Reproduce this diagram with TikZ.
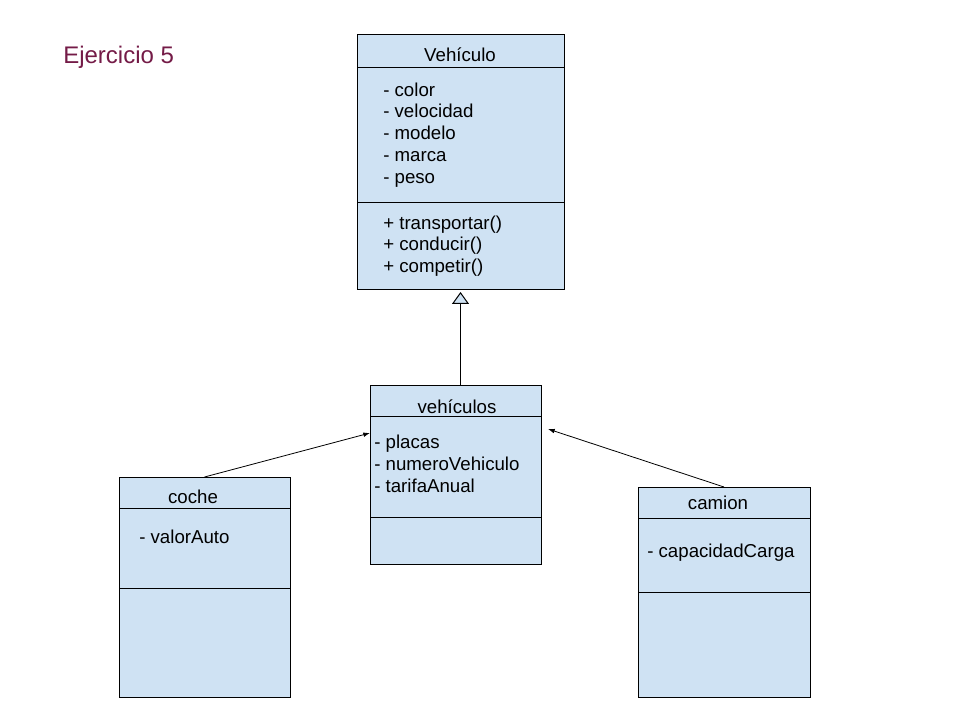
\documentclass[tikz,border=0pt]{standalone}
\usepackage{fontspec}
\setmainfont{Liberation Sans}
\usetikzlibrary{arrows.meta}

\definecolor{classfill}{HTML}{CFE2F3}
\definecolor{titlecolor}{HTML}{741B47}

\tikzset{
	umlbox/.style={rectangle, draw, fill=classfill, line width=0.75pt, inner sep=0pt, outer sep=0pt, anchor=north west},
	txt/.style={anchor=base west, inner sep=0pt, font=\fontsize{14}{16}\selectfont},
	ttl/.style={anchor=base, inner sep=0pt, font=\fontsize{14}{16}\selectfont},
	assoc/.style={line width=0.6pt, -{Latex[length=5pt,width=3.5pt]}}
}

\begin{document}
\begin{tikzpicture}[x=0.75pt, y=-0.75pt]
	\useasboundingbox (0,0) rectangle (960,720);

	% Title
	\node [anchor=base west, inner sep=0pt, text=titlecolor, font=\fontsize{18}{20}\selectfont] (ejercicio) at (63,64) {Ejercicio 5};

	% Define nodes
	\node [umlbox, minimum width=155.25pt, minimum height=191.25pt] (vehiculo) at (357,35) {};
	\node [umlbox, minimum width=128.25pt, minimum height=134.25pt] (vehiculos) at (370,385) {};
	\node [umlbox, minimum width=128.25pt, minimum height=165pt] (coche) at (119,477) {};
	\node [umlbox, minimum width=129pt, minimum height=157.5pt] (camion) at (638,487) {};

	% Compartments
	\draw [line width=0.75pt] (357,68) -- (564,68);
	\draw [line width=0.75pt] (357,203) -- (564,203);
	\draw [line width=0.75pt] (370,416) -- (541,416);
	\draw [line width=0.75pt] (370,517) -- (541,517);
	\draw [line width=0.75pt] (119,508) -- (290,508);
	\draw [line width=0.75pt] (119,588) -- (290,588);
	\draw [line width=0.75pt] (638,518) -- (810,518);
	\draw [line width=0.75pt] (638,592) -- (810,592);

	% Class names and members
	\node [ttl] (vehiculoname) at (460,62) {Vehículo};
	\node [txt] (color) at (383,97) {- color};
	\node [txt] (velocidad) at (383,118) {- velocidad};
	\node [txt] (modelo) at (383,140) {- modelo};
	\node [txt] (marca) at (383,162) {- marca};
	\node [txt] (peso) at (383,184) {- peso};
	\node [txt] (transportar) at (383,230) {+ transportar()};
	\node [txt] (conducir) at (383,251) {+ conducir()};
	\node [txt] (competir) at (383,273) {+ competir()};

	\node [ttl] (vehiculosname) at (457,413) {vehículos};
	\node [txt] (placas) at (374,448) {- placas};
	\node [txt] (numero) at (374,470) {- numeroVehiculo};
	\node [txt] (tarifa) at (374,492) {- tarifaAnual};

	\node [ttl] (cochename) at (193,503) {coche};
	\node [txt] (valor) at (139,543) {- valorAuto};

	\node [ttl] (camionname) at (718,509) {camion};
	\node [txt] (capacidad) at (647,557) {- capacidadCarga};

	% Draw edges
	\coordinate (cocheend) at (370,433);
	\coordinate (camionend) at (548,429);
	\draw [line width=0.75pt, -{Triangle[open, fill=classfill, length=9pt, width=12.75pt]}, shorten >=1.5pt] (vehiculo.south |- vehiculos.north) -- (vehiculo.south);
	\draw [assoc] (coche.north) -- (cocheend);
	\draw [assoc] (camion.north) -- (camionend);
\end{tikzpicture}
\end{document}
